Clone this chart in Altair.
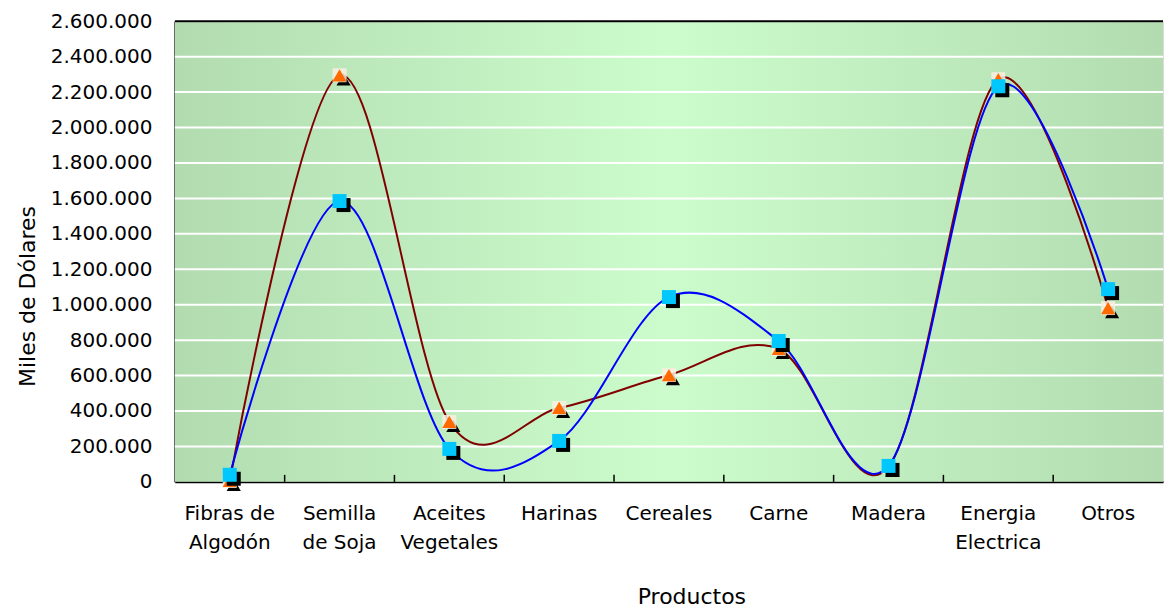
import altair as alt
import pandas as pd

categories = ["Fibras de\nAlgodón", "Semilla\nde Soja", "Aceites\nVegetales", "Harinas",
              "Cereales", "Carne", "Madera", "Energia\nElectrica", "Otros"]
serie_1 = [5000, 2295000, 338000, 417000, 603000, 750000, 85000, 2273000, 981000]
serie_2 = [40000, 1585000, 186000, 231000, 1043000, 795000, 90000, 2233000, 1088000]
series_names = ["Serie 1", "Serie 2"]
y_ticks = list(range(0, 2600001, 200000))

W, H = 989, 461

rows = []
for c, a, b in zip(categories, serie_1, serie_2):
    rows.append({"cat": c, "serie": series_names[0], "valor": a})
    rows.append({"cat": c, "serie": series_names[1], "valor": b})
df = pd.DataFrame(rows)
df_a = df[df.serie == series_names[0]]
df_b = df[df.serie == series_names[1]]

xscale = alt.Scale(type="band", domain=categories, paddingInner=0, paddingOuter=0)
yscale = alt.Scale(domain=[0, 2600000], nice=False, zero=True)

FONT = "DejaVu Sans"

x_axis = alt.Axis(title="Productos", labelAngle=0, ticks=False, grid=False,
                  labelExpr="split(datum.label, '\\n')", labelLineHeight=29,
                  labelFontSize=20, labelPadding=22, labelColor="black",
                  domainColor="black", domainWidth=2,
                  titleFontSize=22, titleFontWeight="normal", titleColor="black",
                  titleX=517, titleY=115, titleBaseline="middle")
y_axis = alt.Axis(title="Miles de Dólares", values=y_ticks, ticks=False, grid=False,
                  labelExpr="replace(format(datum.value, ','), regexp(',', 'g'), '.')",
                  labelFontSize=20, labelPadding=23, labelColor="black",
                  domainColor="black", domainWidth=2,
                  titleFontSize=22, titleFontWeight="normal", titleColor="black",
                  titleX=-147, titleY=275, titleBaseline="middle", titleAlign="center",
                  titleAngle=-90)

one = alt.Data(values=[{"k": 1}])

bg = alt.Chart(one).mark_rect(
    color=alt.Gradient(gradient="linear", x1=0, x2=1, y1=0, y2=0,
                       stops=[alt.GradientStop(offset=0, color="#b2dcb0"),
                              alt.GradientStop(offset=0.5, color="#ccfccc"),
                              alt.GradientStop(offset=1, color="#b2dcb0")])
).encode(x=alt.value(0), x2=alt.value(W), y=alt.value(0), y2=alt.value(H))

grid = alt.Chart(pd.DataFrame({"valor": y_ticks[1:]})).mark_rule(
    color="white", strokeWidth=2
).encode(y=alt.Y("valor:Q", scale=yscale, axis=y_axis, title="Miles de Dólares"))

top_border = alt.Chart(one).mark_rule(color="black", strokeWidth=2).encode(
    y=alt.value(0), x=alt.value(0), x2=alt.value(W))

xticks = alt.Chart(pd.DataFrame({"cat": categories[1:]})).mark_rule(
    color="black", strokeWidth=1.5
).encode(x=alt.X("cat:N", scale=xscale, bandPosition=0, axis=x_axis, title="Productos"),
         y=alt.value(H - 7), y2=alt.value(H))

color_scale = alt.Scale(domain=series_names, range=["#800000", "#0000ff"])

def line(d):
    return alt.Chart(d).mark_line(interpolate="cardinal", strokeWidth=2).encode(
        x=alt.X("cat:N", scale=xscale, bandPosition=0.5, axis=x_axis, title="Productos"),
        y=alt.Y("valor:Q", scale=yscale, axis=y_axis, title="Miles de Dólares"),
        color=alt.Color("serie:N", scale=color_scale, legend=None),
    )

def pts(d, shape, fill, size, dx=0, dy=0, opacity=1.0):
    return alt.Chart(d).mark_point(shape=shape, filled=True, color=fill, size=size,
                                   opacity=opacity, xOffset=dx, yOffset=dy,
                                   strokeWidth=0).encode(
        x=alt.X("cat:N", scale=xscale, bandPosition=0.5, axis=x_axis, title="Productos"),
        y=alt.Y("valor:Q", scale=yscale, axis=y_axis, title="Miles de Dólares"),
    )

chart = alt.layer(
    bg, grid, xticks, top_border,
    line(df_a), line(df_b),
    pts(df_a, "triangle-up", "black", 200, 4, 4),
    pts(df_a, "square", "#fbeee2", 196, 0, 0, 0.85),
    pts(df_a, "triangle-up", "#ff6a00", 200),
    pts(df_b, "square", "black", 196, 4, 4),
    pts(df_b, "square", "#00c8ff", 196),
).properties(
    width=W, height=H,
    padding={"left": 9, "top": 3, "right": 0, "bottom": 0},
).configure_view(stroke=None).configure(font=FONT)

chart.save("out.html", embed_options={"renderer": "svg", "actions": False})
